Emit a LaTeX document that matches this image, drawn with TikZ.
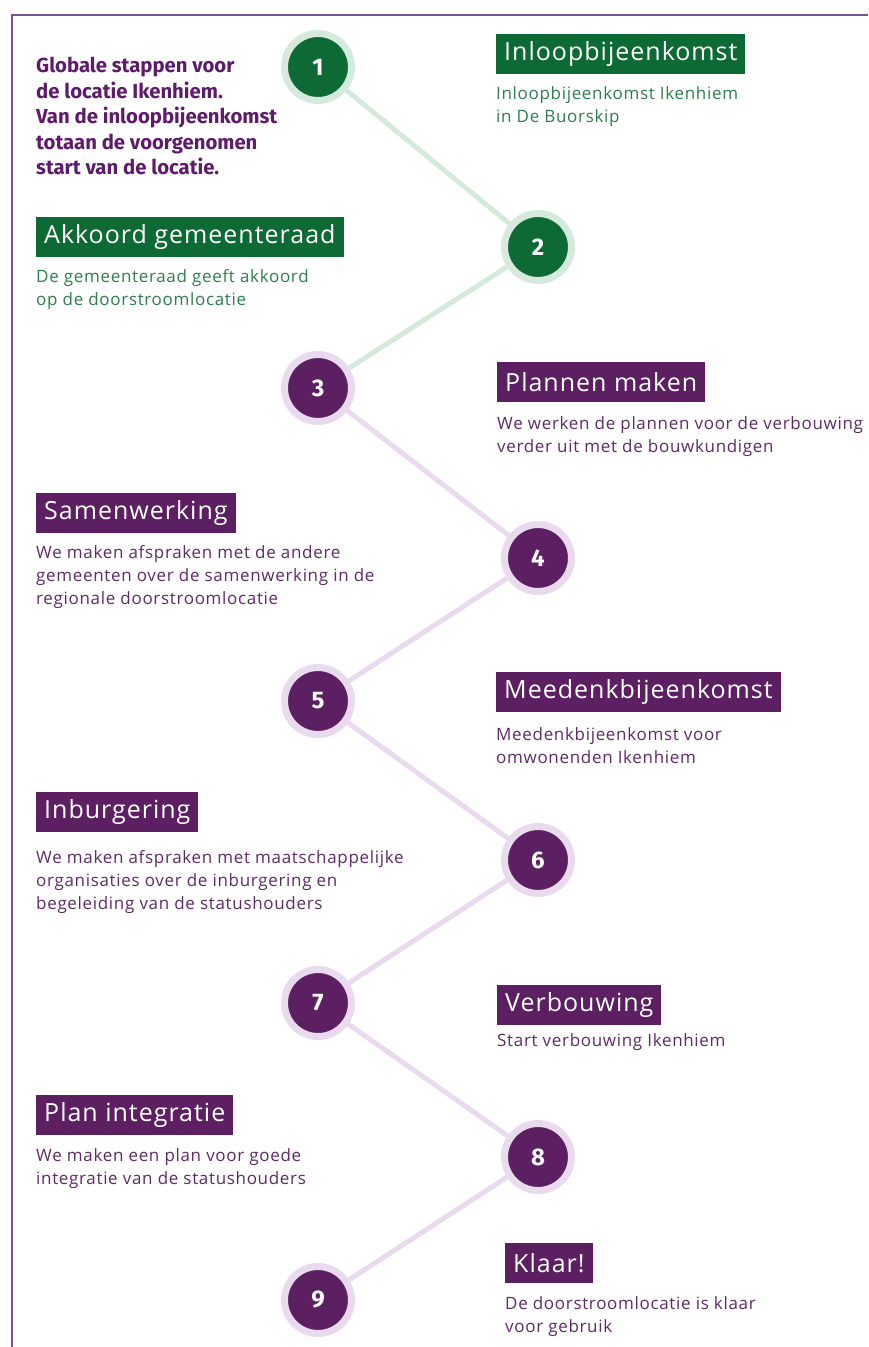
\documentclass[tikz,border=0pt]{standalone}
\usepackage{fontspec}
\setmainfont{Open Sans}
\newfontfamily\titlefont{Fira Sans}
\newfontfamily\headfont[LetterSpace=4]{Open Sans}
\newfontfamily\descfont[LetterSpace=4]{Open Sans}
\usetikzlibrary{positioning}
\definecolor{darkgreen}{HTML}{0E6A35}
\definecolor{lightgreen}{HTML}{D6E9DD}
\definecolor{descgreen}{HTML}{2E7D4E}
\definecolor{darkpurple}{HTML}{5C1F61}
\definecolor{lightpurple}{HTML}{E9DAEE}
\definecolor{descpurple}{HTML}{5E2A66}
\definecolor{titlepurple}{HTML}{5E1A6B}
\definecolor{framepurple}{HTML}{7E5290}

\begin{document}
\begin{tikzpicture}[x=1pt, y=-1pt, node distance=12pt,
    stepdot/.style={circle, minimum size=67pt, line width=7pt, inner sep=0pt, text=white, font=\titlefont\bfseries\fontsize{24}{24}\selectfont},
    greendot/.style={stepdot, fill=darkgreen, draw=lightgreen},
    purpledot/.style={stepdot, fill=darkpurple, draw=lightpurple},
    head/.style={anchor=north west, minimum height=40pt, inner xsep=8pt, inner ysep=0pt, text=white, font=\headfont\fontsize{25}{25}\selectfont},
    greenhead/.style={head, fill=darkgreen},
    purplehead/.style={head, fill=darkpurple},
    desc/.style={inner sep=0pt, align=left, font=\descfont\fontsize{17}{23}\selectfont},
    greendesc/.style={desc, text=descgreen},
    purpledesc/.style={desc, text=descpurple},
    greenline/.style={draw=lightgreen, line width=5pt},
    purpleline/.style={draw=lightpurple, line width=5pt}]
    \useasboundingbox (0,0) rectangle (868,1347);
    \draw[framepurple, line width=2.5pt] (12,1347) -- (12,15) -- (868,15);

    \node[anchor=north west, inner sep=0pt, align=left, text=titlepurple, font=\titlefont\bfseries\fontsize{20.3}{25.5}\selectfont] (title) at (36,57)
        {Globale stappen voor\\de locatie Ikenhiem.\\Van de inloopbijeenkomst\\totaan de voorgenomen\\start van de locatie.};

    \node[greendot] (c1) at (318,67) {1};
    \node[greendot] (c2) at (538,247) {2};
    \node[purpledot] (c3) at (318,388) {3};
    \node[purpledot] (c4) at (538,558) {4};
    \node[purpledot] (c5) at (318,701) {5};
    \node[purpledot] (c6) at (538,860) {6};
    \node[purpledot] (c7) at (318,1003) {7};
    \node[purpledot] (c8) at (538,1157) {8};
    \node[purpledot] (c9) at (318,1300) {9};

    \node[greenhead] (h1) at (496,34) {Inloopbijeenkomst};
    \node[greenhead] (h2) at (36,217) {Akkoord gemeenteraad};
    \node[purplehead] (h3) at (497,362) {Plannen maken};
    \node[purplehead] (h4) at (36,493) {Samenwerking};
    \node[purplehead] (h5) at (496,672) {Meedenkbijeenkomst};
    \node[purplehead] (h6) at (36,792) {Inburgering};
    \node[purplehead] (h7) at (497,985) {Verbouwing};
    \node[purplehead] (h8) at (36,1095) {Plan integratie};
    \node[purplehead] (h9) at (505,1243) {Klaar!};

    \node[greendesc] (d1) [below=of h1.south west, anchor=north west] {Inloopbijeenkomst Ikenhiem\\in De Buorskip};
    \node[greendesc] (d2) [below=of h2.south west, anchor=north west] {De gemeenteraad geeft akkoord\\op de doorstroomlocatie};
    \node[purpledesc] (d3) [below=14pt of h3.south west, anchor=north west] {We werken de plannen voor de verbouwing\\verder uit met de bouwkundigen};
    \node[purpledesc] (d4) [below=of h4.south west, anchor=north west] {We maken afspraken met de andere\\gemeenten over de samenwerking in de\\regionale doorstroomlocatie};
    \node[purpledesc] (d5) [below=15pt of h5.south west, anchor=north west] {Meedenkbijeenkomst voor\\omwonenden Ikenhiem};
    \node[purpledesc] (d6) [below=18pt of h6.south west, anchor=north west] {We maken afspraken met maatschappelijke\\organisaties over de inburgering en\\begeleiding van de statushouders};
    \node[purpledesc] (d7) [below=8pt of h7.south west, anchor=north west] {Start verbouwing Ikenhiem};
    \node[purpledesc] (d8) [below=13pt of h8.south west, anchor=north west] {We maken een plan voor goede\\integratie van de statushouders};
    \node[purpledesc] (d9) [below=13pt of h9.south west, anchor=north west] {De doorstroomlocatie is klaar\\voor gebruik};

    \path[greenline]
    (c1) edge (c2)
    (c2) edge (c3);
    \path[purpleline]
    (c3) edge (c4)
    (c4) edge (c5)
    (c5) edge (c6)
    (c6) edge (c7)
    (c7) edge (c8)
    (c8) edge (c9);
\end{tikzpicture}
\end{document}
